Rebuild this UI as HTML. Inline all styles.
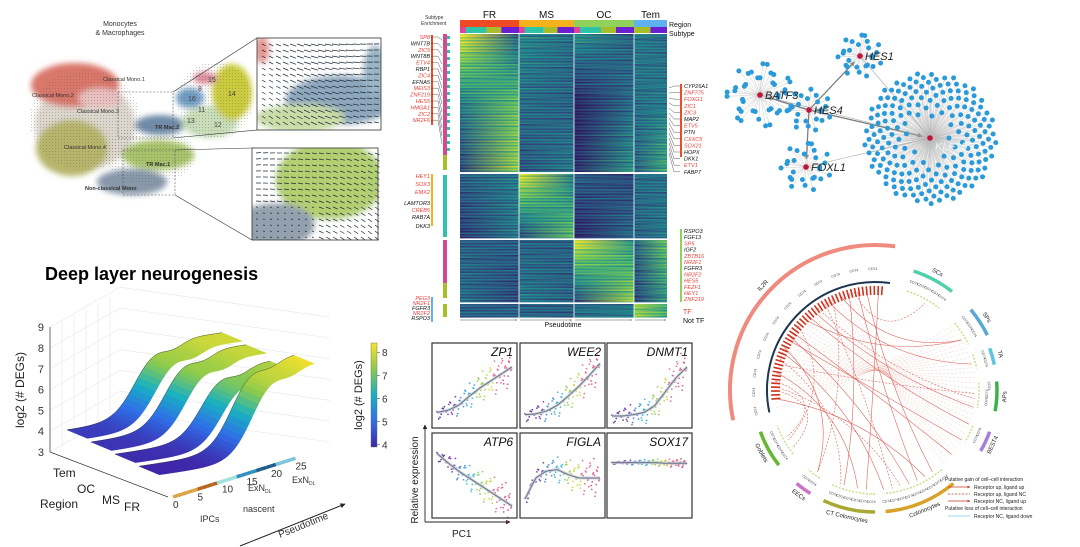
<!DOCTYPE html>
<html><head><meta charset="utf-8">
<style>
html,body{margin:0;padding:0;background:#fff;width:1080px;height:547px;overflow:hidden}
svg{display:block;font-family:"Liberation Sans",sans-serif}
</style></head>
<body>
<svg id="root" width="1080" height="547" viewBox="0 0 1080 547" xmlns="http://www.w3.org/2000/svg">
<defs>
 <pattern id="dots" width="3" height="3" patternUnits="userSpaceOnUse"><circle cx="1.5" cy="1.5" r="0.5" fill="#555" opacity="0.55"/></pattern>
 <filter id="blur3"><feGaussianBlur stdDeviation="3"/></filter>
 <linearGradient id="cbar" x1="0" y1="1" x2="0" y2="0">
  <stop offset="0" stop-color="#3e26a8"/><stop offset="0.25" stop-color="#2f6fe8"/><stop offset="0.5" stop-color="#18b0c2"/><stop offset="0.75" stop-color="#8cca4c"/><stop offset="1" stop-color="#f9e22a"/>
 </linearGradient>
 <marker id="ah" viewBox="0 0 10 10" refX="9" refY="5" markerWidth="5" markerHeight="5" orient="auto"><path d="M0,0L10,5L0,10z" fill="#222"/></marker>
 <marker id="ahg" viewBox="0 0 10 10" refX="9" refY="5" markerWidth="4" markerHeight="4" orient="auto"><path d="M0,0L10,5L0,10z" fill="#888"/></marker>
 <marker id="ahr" viewBox="0 0 10 10" refX="9" refY="5" markerWidth="4" markerHeight="4" orient="auto"><path d="M0,0L10,5L0,10z" fill="#c0392b"/></marker>
</defs>

<g id="velo">
 <text x="120" y="26" font-size="7" text-anchor="middle" fill="#333">Monocytes</text>
 <text x="120" y="35" font-size="7" text-anchor="middle" fill="#333">&amp; Macrophages</text>
 <g filter="url(#blur3)">
  <ellipse cx="85" cy="125" rx="50" ry="45" fill="#dcd6cc"/>
  <ellipse cx="75" cy="85" rx="44" ry="22" fill="#d9776a"/>
  <ellipse cx="100" cy="98" rx="22" ry="10" fill="#e9c0c0"/>
  <ellipse cx="72" cy="148" rx="36" ry="28" fill="#b7b56c"/>
  <ellipse cx="158" cy="155" rx="36" ry="15" fill="#a7c36b"/>
  <ellipse cx="160" cy="125" rx="25" ry="10" fill="#6f8aa8"/>
  <ellipse cx="132" cy="182" rx="35" ry="13" fill="#8898aa"/>
  <ellipse cx="210" cy="122" rx="28" ry="16" fill="#c8ddb8"/>
  <ellipse cx="232" cy="92" rx="20" ry="28" fill="#cbcb3c"/>
  <ellipse cx="190" cy="98" rx="14" ry="10" fill="#6f9bc2"/>
  <ellipse cx="205" cy="78" rx="12" ry="6" fill="#dc8c9c"/>
 </g>
 <g opacity="0.8">
  <ellipse cx="85" cy="120" rx="55" ry="50" fill="url(#dots)"/>
  <ellipse cx="150" cy="155" rx="45" ry="30" fill="url(#dots)"/>
  <ellipse cx="215" cy="100" rx="38" ry="38" fill="url(#dots)"/>
 </g>
 <g font-size="5.5" fill="#333">
  <text x="103" y="81">Classical Mono.1</text>
  <text x="32" y="97">Classical Mono.2</text>
  <text x="77" y="113">Classical Mono.3</text>
  <text x="64" y="149">Classical Mono.4</text>
  <text x="155" y="129" font-weight="bold">TR Mac.2</text>
  <text x="146" y="166" font-weight="bold">TR Mac.1</text>
  <text x="85" y="190" font-weight="bold">Non-classical Mono</text>
 </g>
 <g font-size="7" fill="#444">
  <text x="208" y="82">15</text>
  <text x="198" y="91">8</text>
  <text x="188" y="101">16</text>
  <text x="228" y="96">14</text>
  <text x="198" y="112">11</text>
  <text x="187" y="123">13</text>
  <text x="214" y="127">12</text>
 </g>
 <rect x="118" y="92" width="55" height="46" fill="none" stroke="#555" stroke-width="0.6" stroke-dasharray="2,1.5"/>
 <rect x="123" y="150" width="52" height="45" fill="none" stroke="#555" stroke-width="0.6" stroke-dasharray="2,1.5"/>
 <line x1="173" y1="92" x2="257" y2="38" stroke="#333" stroke-width="0.6"/>
 <line x1="173" y1="138" x2="257" y2="130" stroke="#333" stroke-width="0.6"/>
 <line x1="175" y1="150" x2="252" y2="148" stroke="#333" stroke-width="0.6"/>
 <line x1="175" y1="195" x2="252" y2="240" stroke="#333" stroke-width="0.6"/>
 <g id="inset1">
  <clipPath id="c1"><rect x="257" y="38" width="124" height="92"/></clipPath>
  <g clip-path="url(#c1)" filter="url(#blur3)">
   <rect x="257" y="38" width="124" height="92" fill="#fff"/>
   <ellipse cx="262" cy="50" rx="8" ry="14" fill="#e39a94"/>
   <ellipse cx="340" cy="100" rx="55" ry="25" fill="#8ea7bd"/>
   <ellipse cx="300" cy="118" rx="45" ry="14" fill="#c9dca6"/>
   <ellipse cx="375" cy="70" rx="12" ry="25" fill="#9ab5c6"/>
  </g>
  <g id="arr1"></g>
  <rect x="257" y="38" width="124" height="92" fill="none" stroke="#333" stroke-width="0.8"/>
 </g>
 <g id="inset2">
  <clipPath id="c2"><rect x="252" y="148" width="126" height="92"/></clipPath>
  <g clip-path="url(#c2)" filter="url(#blur3)">
   <rect x="252" y="148" width="126" height="92" fill="#fff"/>
   <ellipse cx="330" cy="180" rx="55" ry="40" fill="#b2cf72"/>
   <ellipse cx="275" cy="225" rx="40" ry="22" fill="#93a0ad"/>
  </g>
  <g id="arr2"></g>
  <rect x="252" y="148" width="126" height="92" fill="none" stroke="#333" stroke-width="0.8"/>
 </g>
</g>

<g id="surf">
 <text x="45" y="280" font-size="18" font-weight="bold" fill="#000">Deep layer neurogenesis</text>
 <g id="grid3d" stroke="#e6e6e6" stroke-width="0.6" fill="none"></g>
 <line x1="50" y1="327" x2="50" y2="452" stroke="#333" stroke-width="0.7"/>
 <line x1="50" y1="452" x2="168" y2="497" stroke="#333" stroke-width="0.7"/>
 <g id="zticks" font-size="11" fill="#333"></g>
 <text transform="translate(24,390) rotate(-90)" font-size="12" text-anchor="middle" fill="#222">log2 (# DEGs)</text>
 <g id="ribbons"></g>
 <g font-size="12" fill="#222">
  <text x="53" y="477">Tem</text>
  <text x="77" y="493">OC</text>
  <text x="102" y="504">MS</text>
  <text x="124" y="511">FR</text>
  <text x="40" y="508">Region</text>
 </g>
 <g id="ptaxis"></g>
 <g font-size="9" fill="#333">
  <text x="200" y="522">IPCs</text>
  <text x="248" y="491">ExN<tspan font-size="5" dy="2">DL</tspan></text>
  <text x="243" y="512">nascent</text>
  <text x="292" y="483">ExN<tspan font-size="5" dy="2">DL</tspan></text>
 </g>
 <line x1="240" y1="546" x2="345" y2="504" stroke="#222" stroke-width="1" marker-end="url(#ah)"/>
 <text transform="translate(280,538) rotate(-22)" font-size="10" fill="#333">Pseudotime</text>
 <rect x="371" y="343" width="6" height="104" fill="url(#cbar)" stroke="#666" stroke-width="0.4"/>
 <g id="cbticks" font-size="10" fill="#333"></g>
 <text transform="translate(362,395) rotate(-90)" font-size="11" text-anchor="middle" fill="#222">log2 (# DEGs)</text>
</g>

<g id="heat">
 <g id="heatRows"></g>
 <g id="heatTop"></g>
 <g id="heatLabels"></g>
</g>

<g id="scat">
 <line x1="425" y1="522" x2="425" y2="425" stroke="#222" stroke-width="0.9" marker-end="url(#ah)"/>
 <line x1="425" y1="522" x2="510" y2="522" stroke="#222" stroke-width="0.9" marker-end="url(#ah)"/>
 <text transform="translate(418,480) rotate(-90)" font-size="10" text-anchor="middle" fill="#222">Relative expression</text>
 <text x="452" y="537" font-size="10" fill="#222">PC1</text>
 <g id="panels"></g>
</g>

<g id="net"></g>
<g id="circ"></g>
</svg>

<script>
const NS="http://www.w3.org/2000/svg";
function mk(tag,attrs,parent,txt){const e=document.createElementNS(NS,tag);for(const k in attrs)e.setAttribute(k,attrs[k]);if(txt!==undefined)e.textContent=txt;(parent||document.getElementById('root')).appendChild(e);return e;}
const $=id=>document.getElementById(id);

(function(){
 const g1=$('arr1');
 for(let y=44;y<128;y+=6)for(let x=262;x<380;x+=7){
  const fx=(x-262)/118, fy=(y-44)/84;
  const ang=0.45-0.5*fx+0.2*fy, L=4+4*Math.sin(fx*3)*(1-fy*0.3);
  const a=mk('line',{x1:x,y1:y,x2:x+L*Math.cos(ang),y2:y+L*Math.sin(ang),stroke:'#1e2a36','stroke-width':0.7},g1);
  
  
 }
 const g2=$('arr2');
 for(let y=153;y<238;y+=6)for(let x=256;x<376;x+=7){
  const fx=(x-256)/120, fy=(y-153)/85;
  const ang=-0.1+0.5*fx+0.3*fy, L=(fy>0.6&&fx<0.5)?2:5;
  const a=mk('line',{x1:x,y1:y,x2:x+L*Math.cos(ang),y2:y+L*Math.sin(ang),stroke:'#1e2a36','stroke-width':0.7},g2);
  
  
 }
})();

const regions=['Tem','OC','MS','FR'];
const lowVals=[4.2,4.1,4.0,3.9];
const highVals=[7.8,7.7,7.4,8.2];
const riseCenter=[11,12,14,15];
const zTicks=[3,4,5,6,7,8,9];
const cbTicks=[4,5,6,7,8];
const ptTicks=[0,5,10,15,20,25];
function P(t,r,z){return [67+t*6.2+r*24, 455-t*0.9+r*10-(z-3)*20.8];}
function zCol(z){
 const s=[[3.9,[62,38,168]],[5,[47,111,232]],[6,[24,176,194]],[7,[140,202,76]],[8.3,[249,226,42]]];
 z=Math.max(3.9,Math.min(8.3,z));
 for(let i=0;i<s.length-1;i++){if(z<=s[i+1][0]){const f=(z-s[i][0])/(s[i+1][0]-s[i][0]);const c=s[i][1].map((v,k)=>Math.round(v+(s[i+1][1][k]-v)*f));return `rgb(${c})`;}}
 return 'rgb(249,226,42)';
}
(function(){
 const g=$('grid3d');
 for(let i=0;i<6;i++){mk('line',{x1:50+i*12,y1:327-i*6,x2:50+i*12,y2:452-i*6},g);}
 zTicks.forEach(z=>{const y=452-(z-3)*20.8;mk('line',{x1:50,y1:y,x2:120,y2:y-40},g);mk('line',{x1:120,y1:y-40,x2:330,y2:y-10},g);});
 const zt=$('zticks');
 zTicks.forEach(z=>{const t=mk('text',{x:44,y:452-(z-3)*20.8+4,'text-anchor':'end'},zt,String(z));
  
  });
 const rg=$('ribbons');
 for(let r=0;r<regions.length;r++){
  const lo=lowVals[r],hi=highVals[r],c=riseCenter[r];
  const zf=t=>lo+(hi-lo)/(1+Math.exp(-(t-c)/1.8))-0.35*Math.exp(-Math.pow((t-(c+6))/2.5,2));
  const rib=mk('g',{},rg);
  
  
  const N=50, D=0.85;
  for(let i=0;i<N;i++){
   const t0=25*i/N,t1=25*(i+1)/N,z0=zf(t0),z1=zf(t1);
   const a=P(t0,r,z0),b=P(t1,r,z1),cc=P(t1,r+D,z1),d=P(t0,r+D,z0);
   mk('path',{d:`M${a}L${b}L${cc}L${d}Z`,fill:zCol((z0+z1)/2),stroke:zCol((z0+z1)/2),'stroke-width':0.5},rib);
  }
  let ed='';for(let i=0;i<=N;i++){const t=25*i/N;ed+=(i?'L':'M')+P(t,r,zf(t));}
  mk('path',{d:ed,fill:'none',stroke:'#333','stroke-width':0.4},rib);
 }
 const pa=$('ptaxis');
 const segCols=['#d9a441','#b8651c','#9fe0dc','#2f8fbf','#1e5e8c','#7cc4de'];
 for(let i=0;i<25;i++){
  const x0=173+i*4.9,y0=497-i*1.55;
  const s=mk('line',{x1:x0,y1:y0,x2:x0+4.9,y2:y0-1.55,stroke:segCols[Math.min(5,Math.floor(i/4.2))],'stroke-width':3.5},pa);
  
  
 }
 ptTicks.forEach(v=>{const t=mk('text',{x:173+v*4.9,y:508-v*1.55,'font-size':10,fill:'#333'},pa,String(v));
  
  });
 const cb=$('cbticks');
 cbTicks.forEach(v=>{const y=447-(v-3.9)/(8.4-3.9)*104;
  mk('line',{x1:377,y1:y,x2:380,y2:y,stroke:'#333','stroke-width':0.5},cb);
  const t=mk('text',{x:382,y:y+4},cb,String(v));
  
  });
})();

const heatRegions=['FR','MS','OC','Tem'];
const regionColors=['#ef4a25','#f5b21e','#8fd15a','#5fb1f0'];
const blockBounds=[[34,172],[174,238],[240,302],[304,317]];
const block1Profiles=[[0.95,0.3,0.45,0.35,0.5,0.3,0.4,0.35],[0.4,0.7,0.35,0.3,0.05,0.35,0.35,0.4],[0.2,0.8,0.25,0.4,0.1,0.5,0.3,0.6]];
const block2Profiles=[[0.3,0.4,0.95,0.4,0.3,0.2,0.35,0.35],[0.15,0.4,0.2,0.7,0.05,0.35,0.3,0.4]];
const block3Profiles=[[0.3,0.3,0.3,0.3,0.95,0.5,0.3,0.7],[0.35,0.2,0.4,0.3,0.2,0.8,0.2,0.5]];
const block4Profiles=[[0.3,0.3,0.3,0.3,0.35,0.4,0.8,0.6]];
const rowJitter=[0,0.12,-0.1,0.05,-0.15,0.18,-0.05,0.08,-0.12,0.1,-0.02,0.15,-0.18,0.03,0.07,-0.09,0.11];
function vir(v){
 const s=[[0,[45,18,90]],[0.25,[45,80,130]],[0.5,[33,145,140]],[0.75,[110,200,90]],[1,[250,230,40]]];
 v=Math.max(0,Math.min(1,v));
 for(let i=0;i<4;i++)if(v<=s[i+1][0]){const f=(v-s[i][0])/0.25;return `rgb(${s[i][1].map((c,k)=>Math.round(c+(s[i+1][1][k]-c)*f))})`;}
}
(function(){
 const x0=460,xs=[460,519,574,634,667];
 const defs=document.querySelector('defs');
 const hr=$('heatRows');
 const blocks=[block1Profiles,block2Profiles,block3Profiles,block4Profiles];
 let gid=0;
 blocks.forEach((profs,bi)=>{
  const [y0,y1]=blockBounds[bi];
  const bg=mk('g',{},hr);
  
  
  for(let y=y0,k=0;y<y1;y+=1.5,k++){
   const f=(y-y0)/(y1-y0)*(profs.length-1);
   const i=Math.min(profs.length-2,Math.floor(f)),fr=profs.length>1?f-i:0;
   const p=profs.length>1?profs[i].map((v,j)=>v+(profs[i+1][j]-v)*fr):profs[0];
   const lg=mk('linearGradient',{id:'hg'+gid,x1:0,x2:1,y1:0,y2:0},defs);
   for(let r=0;r<4;r++){
    const j1=rowJitter[(k+r*3)%rowJitter.length]*0.8, j2=rowJitter[(k+r*5+2)%rowJitter.length]*0.8;
    mk('stop',{offset:(xs[r]-x0)/(667-x0),'stop-color':vir(p[2*r]+j1)},lg);
    mk('stop',{offset:(xs[r+1]-x0)/(667-x0)-0.001,'stop-color':vir(p[2*r+1]+j2)},lg);
   }
   mk('rect',{x:x0,y:y,width:207,height:1.6,fill:`url(#hg${gid})`},bg);
   gid++;
  }
 });
 [519,574,634].forEach(x=>mk('line',{x1:x,y1:34,x2:x,y2:318,stroke:'#fff','stroke-width':0.8},hr));
 [173,239,303].forEach(y=>mk('line',{x1:460,y1:y,x2:667,y2:y,stroke:'#fff','stroke-width':1.2},hr));
 const ht=$('heatTop');
 const subCols=['#e0409a','#2ec4a8','#a7be2a','#6a1fd0'];
 for(let r=0;r<4;r++){
  const rb=mk('rect',{x:xs[r],y:20,width:xs[r+1]-xs[r],height:7,fill:regionColors[r]},ht);
  
  
  const t=mk('text',{x:(xs[r]+xs[r+1])/2,y:18,'font-size':10,'text-anchor':'middle',fill:'#111'},ht,heatRegions[r]);
  
  
  const w=xs[r+1]-xs[r];const parts=r==3?[0,0,0.5,0.5]:[0.1,0.35,0.25,0.3];
  let xx=xs[r];parts.forEach((pp,q)=>{if(pp>0){mk('rect',{x:xx,y:27,width:w*pp,height:6,fill:subCols[q]},ht);xx+=w*pp;}});
 }
 mk('text',{x:669,y:27,'font-size':7,fill:'#111'},ht,'Region');
 mk('text',{x:669,y:36,'font-size':7,fill:'#111'},ht,'Subtype');
 mk('text',{x:425,y:19,'font-size':5,fill:'#333'},ht,'Subtype');
 mk('text',{x:421,y:25,'font-size':5,fill:'#333'},ht,'Enrichment');
 mk('text',{x:563,y:327,'font-size':7,'text-anchor':'middle',fill:'#111'},ht,'Pseudotime');
 [[460,517],[520,572],[575,632],[635,666]].forEach(s=>mk('line',{x1:s[0],y1:320,x2:s[1],y2:320,stroke:'#555','stroke-width':0.5,'marker-end':'url(#ahg)'},ht));
 mk('text',{x:683,y:314,'font-size':7,fill:'#e8403a'},ht,'TF');
 mk('text',{x:683,y:323,'font-size':7,fill:'#111'},ht,'Not TF');
 const se=[[34,155,'#d8488f'],[155,170,'#a7be2a'],[175,237,'#2ec4a8'],[240,283,'#d8488f'],[283,298,'#a7be2a'],[304,317,'#a7be2a']];
 se.forEach(s=>mk('rect',{x:443,y:s[0],width:4,height:s[1]-s[0],fill:s[2]},ht));
 for(let y=36;y<150;y+=7)mk('rect',{x:447,y:y,width:3,height:3,fill:'#2ec4a8'},ht);
 const hl=$('heatLabels');
 const leftGenes=[['SP8',1],['WNT7B',0],['ZIC5',1],['WNT8B',0],['ETV4',1],['RBP1',0],['ZIC4',1],['EFNA5',0],['MEIS3',1],['ZNF219',1],['HES5',1],['HMGA1',1],['ZIC2',1],['NR2F6',1]];
 leftGenes.forEach((g,i)=>{const t=mk('text',{x:430,y:39+i*6.4,'font-size':5.5,'font-style':'italic','text-anchor':'end',fill:g[1]?'#e8403a':'#111'},hl,g[0]);
  
  });
 mk('rect',{x:431,y:35,width:2,height:90,fill:'#ef4a25'},hl);
 const left2=[['HEY1',1],['SOX3',1],['EMX2',1],['LAMTOR3',0],['CREB5',1],['RAB7A',0],['DKK3',0]];
 left2.forEach((g,i)=>mk('text',{x:430,y:[178,186,194,205,212,219,228][i],'font-size':5.5,'font-style':'italic','text-anchor':'end',fill:g[1]?'#e8403a':'#111'},hl,g[0]));
 mk('rect',{x:431,y:174,width:2,height:52,fill:'#f5b21e'},hl);
 const left3=[['PEG3',1],['NR2F1',1],['FGFR3',0],['NR2F2',1],['RSPO3',0]];
 left3.forEach((g,i)=>mk('text',{x:430,y:300+i*5,'font-size':5.5,'font-style':'italic','text-anchor':'end',fill:g[1]?'#e8403a':'#111'},hl,g[0]));
 mk('rect',{x:431,y:297,width:2,height:25,fill:'#5fb1f0'},hl);
 const right1=[['CYP26A1',0],['ZNF775',1],['FOXG1',1],['ZIC1',1],['ZIC3',1],['MAP2',0],['ETV5',1],['PTN',0],['CXXC5',1],['SOX21',1],['HOPX',0],['DKK1',0],['ETV1',1],['FABP7',0]];
 right1.forEach((g,i)=>{const t=mk('text',{x:684,y:88+i*6.6,'font-size':5.5,'font-style':'italic',fill:g[1]?'#e8403a':'#111'},hl,g[0]);
  
  });
 mk('rect',{x:680,y:84,width:2,height:73,fill:'#ef4a25'},hl);
 const right2=[['RSPO3',0],['FGF13',0],['SP5',1],['IGF2',0],['ZBTB16',1],['NR2F1',1],['FGFR3',0],['NR2F2',1],['HES5',1],['FEZF1',1],['HEY1',1],['ZNF219',1]];
 right2.forEach((g,i)=>mk('text',{x:684,y:233+i*6.2,'font-size':5.5,'font-style':'italic',fill:g[1]?'#e8403a':'#111'},hl,g[0]));
 mk('rect',{x:680,y:229,width:2,height:73,fill:'#8fd15a'},hl);
 for(let i=0;i<14;i++){mk('path',{d:`M431,${37+i*6.4}L438,${37+i*6.4}L442,${40+i*8}`,fill:'none',stroke:'#333','stroke-width':0.4},hl);
  mk('path',{d:`M680,${86+i*6.6}L674,${86+i*6.6}L669,${88+i*5}`,fill:'none',stroke:'#333','stroke-width':0.4},hl);}
})();

const geneNames=['ZP1','WEE2','DNMT1','ATP6','FIGLA','SOX17'];
const trendZP1=[0.15,0.18,0.25,0.38,0.5,0.6,0.7,0.8];
const trendWEE2=[0.12,0.13,0.17,0.25,0.38,0.52,0.68,0.85];
const trendDNMT1=[0.1,0.1,0.12,0.15,0.25,0.45,0.65,0.8];
const trendATP6=[0.85,0.72,0.6,0.5,0.4,0.3,0.2,0.1];
const trendFIGLA=[0.2,0.5,0.6,0.62,0.55,0.5,0.5,0.5];
const trendSOX17=[0.72,0.72,0.72,0.72,0.72,0.71,0.71,0.71];
const residuals=[0.02,-0.05,0.08,-0.01,0.12,-0.09,0.04,-0.14,0.06,0.0,-0.07,0.1,-0.03,0.15,-0.11,0.05,-0.02,0.09,-0.06,0.03];
const trends=[trendZP1,trendWEE2,trendDNMT1,trendATP6,trendFIGLA,trendSOX17];
(function(){
 const pg=$('panels');
 const px=[432,520,607],py=[343,433],W=85,H=85;
 const ptCols=['#5b1b8f','#6a2fa8','#3f7fd6','#2fb0d0','#8cc84a','#c4d13a','#e0608a','#d84a78'];
 trends.forEach((tr,pi)=>{
  const x0=px[pi%3],y0=py[Math.floor(pi/3)];
  const g=mk('g',{},pg);
  
  
  const xS=u=>x0+5+u*(W-10), yS=v=>y0+H-5-v*(H-15);
  const tv=u=>{const f=u*(tr.length-1),i=Math.min(tr.length-2,Math.floor(f));return tr[i]+(tr[i+1]-tr[i])*(f-i);};
  const N=110;
  for(let k=0;k<N;k++){
   const u=Math.pow(k/N,0.8);
   const spread=(pi==5?0.3:1.3)*(0.5+u);
   const v=tv(u)+residuals[(k*7)%residuals.length]*spread;
   const c=mk('circle',{cx:xS(u),cy:yS(v),r:0.9,fill:ptCols[Math.min(7,Math.floor(u*8))],opacity:0.85},g);
   
   
  }
  let d='';for(let i=0;i<=40;i++){const u=i/40;d+=(i?'L':'M')+xS(u)+','+yS(tv(u));}
  mk('path',{d:d,fill:'none',stroke:'#c5ccd6','stroke-width':3,opacity:0.8},g);
  const ln=mk('path',{d:d,fill:'none',stroke:'#6a7486','stroke-width':1},g);
  
  
  mk('rect',{x:x0,y:y0,width:W,height:H,fill:'none',stroke:'#333','stroke-width':1.2},g);
  const t=mk('text',{x:x0+W-4,y:y0+13,'font-size':12,'font-style':'italic','text-anchor':'end',fill:'#111'},g,geneNames[pi]);
  
  
 });
})();

const hubNames=['HES1','BATF3','HES4','FOXL1','KLF10'];
const hubX=[860,760,809,806,930];
const hubY=[56,95,110,167,138];
const hubLeafCount=[26,40,22,26,200];
const hubRadius=[22,33,22,25,66];
const edgesFrom=[2,2,2,2,0,1,3];
const edgesTo=[0,1,3,4,4,4,4];
(function(){
 const g=$('net');
 const eg=mk('g',{},g);
 hubNames.forEach((h,i)=>{
  const n=hubLeafCount[i],R=hubRadius[i];
  const cg=mk('g',{},g);
  
  
  for(let k=0;k<n;k++){
   const frac=Math.sqrt((k+0.5)/n), ang=k*2.39996;
   const rr=i==4?R*(0.25+0.75*frac):R*(0.55+0.45*((k%3)/2));
   const lx=hubX[i]+rr*Math.cos(ang), ly=hubY[i]+rr*Math.sin(ang)*(i==4?1:0.95);
   mk('line',{x1:hubX[i],y1:hubY[i],x2:lx,y2:ly,stroke:'#bbb','stroke-width':0.4},eg);
   const c=mk('circle',{cx:lx,cy:ly,r:2.5,fill:'#2a9ad8'},cg);
   
   
  }
 });
 edgesFrom.forEach((f,i)=>{
  const t=edgesTo[i];const dx=hubX[t]-hubX[f],dy=hubY[t]-hubY[f],L=Math.hypot(dx,dy);
  const main=i<4;
  const e=mk('line',{x1:hubX[f],y1:hubY[f],x2:hubX[t]-dx/L*(main?8:2),y2:hubY[t]-dy/L*(main?8:2),stroke:main?'#777':'#aaa','stroke-width':main?1.2:0.6,'marker-end':main?'url(#ahg)':''},eg);
  
  
 });
 hubNames.forEach((h,i)=>{
  const c=mk('circle',{cx:hubX[i],cy:hubY[i],r:2.8,fill:'#c0143c'},g);
  
  
  const t=mk('text',{x:hubX[i]+5,y:hubY[i]+(i==4?12:4),'font-size':11,'font-style':'italic',fill:i==4?'#e8f4fb':'#222'},g,h);
  
  
 });
})();

const segNames=['IL2R','SCs','SPs','TA','APs','BEST4','Colonocytes','CT Colonocytes','EECs','Goblets'];
const segStart=[-102,18,50,70,86,110,140,180,212,232];
const segEnd=[8,38,64,78,100,120,175,205,220,250];
const segRadius=[145,125,125,122,122,122,122,122,122,122];
const segColors=['#f08a7e','#4fcfaa','#5aa7d4','#5cc3e0','#3cb34a','#a77fd8','#d9a22a','#a8a832','#c872c8','#66b832'];
const linkFrom=[-95,-88,-80,-72,-65,-58,-50,-42,-35,-28,-20,-12,-5,2,-90,-60,-30,-15,-75,-45,-10,-85,-55,-25,-68,-38];
const linkTo=[150,165,190,200,215,160,240,110,95,75,60,30,145,185,235,120,170,198,92,60,155,242,130,215,175,100];
const linkDashed=[0,1,0,1,0,0,1,0,1,0,0,1,0,0,1,0,1,0,1,0,0,1,0,1,0,0];
(function(){
 const g=$('circ');const cx=875,cy=390;
 const pt=(a,r)=>[cx+r*Math.sin(a*Math.PI/180),cy-r*Math.cos(a*Math.PI/180)];
 const lg=mk('g',{},g);
 linkFrom.forEach((a,i)=>{
  const p=pt(a,100),q=pt(linkTo[i],100);
  const mx=((p[0]+q[0])/2+cx)/2, my=((p[1]+q[1])/2+cy)/2;
  const l=mk('path',{d:`M${p}Q${mx},${my} ${q}`,fill:'none',stroke:'#d9534a','stroke-width':0.6,'stroke-dasharray':linkDashed[i]?'2,1.5':'none',opacity:0.9},lg);
  
  
 });
 for(let a=-100;a<-10;a+=3){const p=pt(a,100),q=pt(a+150,100);const mx=((p[0]+q[0])/2+cx)/2,my=((p[1]+q[1])/2+cy)/2;mk('path',{d:`M${p}Q${mx},${my} ${q}`,fill:'none',stroke:'#e08a80','stroke-width':0.4,'stroke-dasharray':'2,2',opacity:0.6},lg);}
 segNames.forEach((n,i)=>{
  const a0=segStart[i],a1=segEnd[i],R=segRadius[i];
  const p0=pt(a0,R),p1=pt(a1,R);
  const s=mk('path',{d:`M${p0}A${R},${R} 0 ${a1-a0>180?1:0} 1 ${p1}`,fill:'none',stroke:segColors[i],'stroke-width':i==0?4:3.5},g);
  
  
  const ir=i==0?108:104;const q0=pt(a0,ir),q1=pt(a1,ir);
  mk('path',{d:`M${q0}A${ir},${ir} 0 0 1 ${q1}`,fill:'none',stroke:i==0?'#1d3550':'#c5e08a','stroke-width':i==0?2:1.5,'stroke-dasharray':i==0?'none':'2,1.5'},g);
  const am=(a0+a1)/2,lp=pt(am,R+8);
  let rot=am; if(am>90&&am<270)rot=am-180;
  const t=mk('text',{x:lp[0],y:lp[1],'font-size':6,'text-anchor':'middle','dominant-baseline':'middle',transform:`rotate(${rot},${lp[0]},${lp[1]})`,fill:'#222'},g,n);
  
  
  for(let a=a0+2;a<a1;a+=(i==0?9:4)){const gp=pt(a,i==0?120:113);
   mk('text',{x:gp[0],y:gp[1],'font-size':3.5,'text-anchor':'middle',transform:`rotate(${a>90&&a<270?a-180:a},${gp[0]},${gp[1]})`,fill:'#444'},g,'CD74');}
 });
 for(let a=-95;a<5;a+=2.2){const p=pt(a,104),q=pt(a,95);mk('line',{x1:p[0],y1:p[1],x2:q[0],y2:q[1],stroke:'#d0321e','stroke-width':1.6},g);}
 const lx=953;
 const L=mk('g',{'font-size':5,fill:'#222'},g);
 
 
 mk('text',{x:lx-8,y:481},L,'Putative gain of cell–cell interaction');
 mk('line',{x1:lx-5,y1:487,x2:lx+17,y2:487,stroke:'#c0392b','stroke-width':0.7,'marker-end':'url(#ahr)'},L);
 mk('text',{x:lx+21,y:489},L,'Receptor up, ligand up');
 mk('line',{x1:lx-5,y1:494,x2:lx+17,y2:494,stroke:'#c0392b','stroke-width':0.7,'stroke-dasharray':'2,1.5'},L);
 mk('text',{x:lx+21,y:496},L,'Receptor up, ligand NC');
 mk('line',{x1:lx-5,y1:501,x2:lx+17,y2:501,stroke:'#c0392b','stroke-width':0.7,'marker-end':'url(#ahr)'},L);
 mk('text',{x:lx+21,y:503},L,'Receptor NC, ligand up');
 mk('text',{x:lx-8,y:510},L,'Putative loss of cell–cell interaction');
 mk('line',{x1:lx-5,y1:516,x2:lx+17,y2:516,stroke:'#7fc8e0','stroke-width':0.7},L);
 mk('text',{x:lx+21,y:518},L,'Receptor NC, ligand down');
})();
</script>
</body></html>
